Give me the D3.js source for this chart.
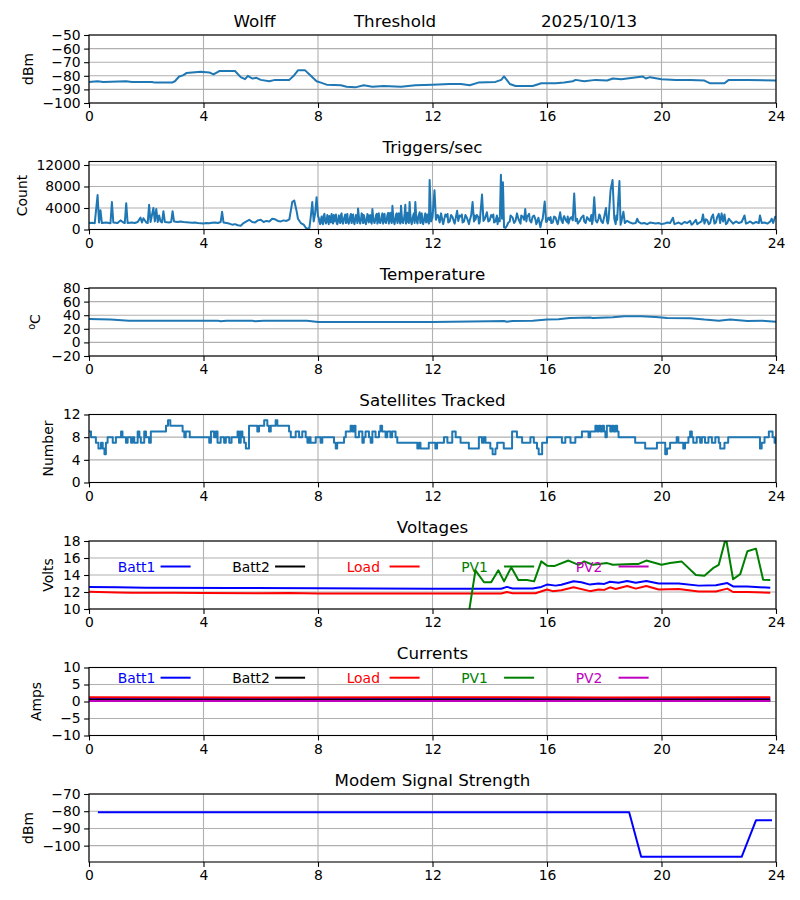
<!DOCTYPE html>
<html><head><meta charset="utf-8">
<script src="https://cdn.jsdelivr.net/npm/d3@7"></script>
<style>body{margin:0;background:#fff}svg{display:block}text{font-family:"DejaVu Sans",sans-serif}</style>
</head><body>
<svg id="c" width="800" height="900"></svg>
<script>
// ---------- data (hour, value) ----------
const hourTicks = [0,4,8,12,16,20,24];
const threshold = [[0,-84.5],[0.3,-84],[0.5,-84.5],[1.3,-84],[1.5,-84.5],[2.2,-84.5],[2.3,-85],[2.9,-85],[3.0,-84],[3.15,-80.5],[3.3,-79.5],[3.4,-78],[3.6,-77.5],[3.9,-77],[4.2,-77.5],[4.35,-79],[4.55,-76.5],[5.1,-76.5],[5.3,-81],[5.45,-82.5],[5.55,-80],[5.7,-82],[5.85,-81.5],[6.0,-83],[6.3,-84],[6.5,-83],[7.0,-83],[7.15,-80],[7.3,-76],[7.55,-76],[7.75,-80],[7.95,-84],[8.1,-85],[8.3,-86.5],[8.8,-87],[9.0,-88],[9.3,-88.5],[9.6,-87],[9.9,-88],[10.3,-87.5],[10.9,-88],[11.4,-87],[12.0,-86.5],[12.6,-86],[13.0,-86],[13.3,-87],[13.6,-85],[14.2,-84.5],[14.4,-83],[14.5,-80.5],[14.7,-86],[14.9,-87.5],[15.5,-87.5],[15.8,-85.5],[16.3,-85.5],[16.6,-85],[16.9,-84],[17.0,-83],[17.3,-84],[17.7,-83],[18.1,-83.5],[18.3,-82],[18.6,-82.5],[19.0,-81.5],[19.35,-80.5],[19.45,-82],[19.6,-81],[20.0,-82.5],[20.5,-83],[21.0,-83],[21.5,-83.5],[21.7,-85.5],[22.2,-85.5],[22.35,-83],[23.0,-83],[24.0,-83.5]];
const triggers = [[0,1200],[0.1,1250],[0.2,1150],[0.3,6400],[0.35,1300],[0.4,3600],[0.45,1200],[0.6,1300],[0.7,1200],[0.75,1150],[0.8,5100],[0.85,1300],[1.0,1200],[1.1,1700],[1.2,1300],[1.25,1200],[1.3,4900],[1.35,1200],[1.5,1300],[1.6,1200],[1.7,1400],[1.8,2200],[1.85,1300],[1.9,2100],[2.0,1300],[2.05,1200],[2.1,4600],[2.15,1400],[2.25,4000],[2.3,1500],[2.35,3800],[2.4,1400],[2.45,2600],[2.5,1500],[2.55,1300],[2.6,3400],[2.65,1400],[2.8,1300],[2.87,1400],[2.92,3400],[2.97,1500],[3.1,1400],[3.2,1500],[3.3,1400],[3.4,1350],[3.5,1300],[3.6,1250],[3.7,1300],[3.8,1200],[3.9,1150],[4.0,1100],[4.1,1200],[4.2,1150],[4.3,1250],[4.4,1300],[4.5,1200],[4.6,1400],[4.65,3300],[4.7,1300],[4.8,1200],[4.9,1100],[5.0,900],[5.1,1000],[5.2,800],[5.3,700],[5.4,1200],[5.5,1500],[5.6,1800],[5.7,1400],[5.8,1300],[5.9,1700],[6.0,1800],[6.1,1400],[6.2,1600],[6.3,1500],[6.4,2000],[6.5,1900],[6.6,1600],[6.7,1500],[6.8,1700],[6.9,1600],[7.0,1900],[7.1,5100],[7.17,5400],[7.25,3500],[7.3,2000],[7.4,1200],[7.5,900],[7.55,500],[7.6,100],[7.7,300],[7.75,2500],[7.8,5100],[7.85,1500],[7.9,3000],[7.95,6000],[8.0,2500],[8.05,1400],[8.1,1800],[8.15,1200],[8.2,2600],[8.25,1600],[8.3,1400],[8.35,2300],[8.4,2500],[8.45,1300],[8.5,1800],[8.55,2700],[8.6,2300],[8.65,1200],[8.7,1500],[8.75,2400],[8.8,2700],[8.85,1400],[8.9,1900],[8.95,2800],[9.0,2400],[9.05,1300],[9.1,1600],[9.15,2900],[9.2,2600],[9.25,1400],[9.3,1800],[9.35,2400],[9.4,3900],[9.45,1500],[9.5,1700],[9.55,2800],[9.6,2700],[9.65,1300],[9.7,1600],[9.75,2600],[9.8,2500],[9.85,1400],[9.9,3800],[9.95,1500],[10.0,1700],[10.05,2900],[10.1,2800],[10.15,1300],[10.2,1600],[10.25,3000],[10.3,2600],[10.35,1400],[10.4,1800],[10.45,3100],[10.5,2900],[10.55,1500],[10.6,4400],[10.65,1400],[10.7,1700],[10.75,3000],[10.8,2700],[10.85,1500],[10.9,4400],[10.95,1300],[11.0,1800],[11.05,4600],[11.1,2000],[11.15,1400],[11.2,5100],[11.25,1500],[11.3,1800],[11.35,3000],[11.4,5100],[11.45,1600],[11.5,2200],[11.55,3200],[11.6,2700],[11.65,1300],[11.7,1600],[11.75,3000],[11.8,2500],[11.85,1400],[11.9,9200],[11.95,1500],[12.0,2200],[12.07,7300],[12.12,1800],[12.2,2600],[12.25,1300],[12.3,3000],[12.35,1500],[12.4,1700],[12.45,2800],[12.5,2400],[12.55,1300],[12.6,1500],[12.65,2700],[12.7,2300],[12.75,1400],[12.8,1800],[12.86,3500],[12.9,1600],[12.95,2600],[13.0,2400],[13.05,1300],[13.1,1500],[13.15,2700],[13.2,2200],[13.25,1400],[13.3,1700],[13.35,2600],[13.4,5100],[13.45,1500],[13.5,1800],[13.55,2700],[13.6,2300],[13.65,1400],[13.73,6500],[13.78,1600],[13.83,2000],[13.9,3200],[13.95,1500],[14.0,1700],[14.05,2700],[14.1,2300],[14.15,1300],[14.2,1500],[14.25,2600],[14.3,2100],[14.35,1500],[14.39,10200],[14.43,2000],[14.46,8800],[14.5,400],[14.55,300],[14.6,700],[14.65,1300],[14.7,1500],[14.75,2500],[14.8,2200],[14.85,1200],[14.9,1600],[14.95,3000],[15.0,2000],[15.05,1400],[15.1,2600],[15.15,2400],[15.2,1800],[15.24,3800],[15.28,1500],[15.3,2300],[15.35,2700],[15.4,1700],[15.45,1300],[15.5,2400],[15.55,2600],[15.6,1800],[15.65,1300],[15.7,2200],[15.77,400],[15.81,1500],[15.85,2000],[15.92,5200],[15.97,1400],[16.0,1500],[16.05,2200],[16.1,1800],[16.15,1200],[16.2,1300],[16.25,2400],[16.3,2200],[16.35,1300],[16.4,1600],[16.46,3200],[16.5,1700],[16.55,1200],[16.6,2500],[16.65,1800],[16.7,1400],[16.75,1100],[16.8,2000],[16.85,2300],[16.9,1700],[16.95,6700],[17.0,1600],[17.05,2000],[17.1,1300],[17.15,1600],[17.2,2200],[17.25,2500],[17.3,1500],[17.35,1200],[17.4,2300],[17.45,1900],[17.5,1600],[17.55,2700],[17.6,1700],[17.65,6000],[17.7,1700],[17.75,1300],[17.8,2000],[17.85,2600],[17.9,1500],[17.95,1200],[18.0,2400],[18.06,4000],[18.1,1500],[18.15,1800],[18.22,7300],[18.29,9200],[18.35,2000],[18.4,1000],[18.45,1800],[18.53,9000],[18.57,900],[18.6,1500],[18.67,3300],[18.72,1200],[18.75,1400],[18.8,1600],[18.9,1300],[19.0,1100],[19.1,1200],[19.15,2000],[19.2,1400],[19.3,1100],[19.4,1200],[19.5,1000],[19.6,1300],[19.7,1200],[19.8,1100],[19.9,1200],[20.0,1000],[20.1,1100],[20.2,1300],[20.3,1200],[20.4,2200],[20.45,1000],[20.5,1100],[20.6,1300],[20.7,1000],[20.8,1400],[20.9,1200],[21.0,1600],[21.05,900],[21.1,1100],[21.2,1800],[21.25,1000],[21.3,1200],[21.4,1500],[21.45,2800],[21.5,1100],[21.55,1900],[21.6,1700],[21.65,1000],[21.7,1200],[21.75,2300],[21.8,2800],[21.85,1100],[21.9,1300],[21.95,2400],[22.0,2900],[22.05,1200],[22.1,3000],[22.15,1500],[22.2,2800],[22.25,1000],[22.3,1200],[22.35,2000],[22.4,1700],[22.5,1100],[22.6,1500],[22.7,1200],[22.8,1400],[22.9,2600],[22.95,1100],[23.0,1200],[23.1,1500],[23.2,1100],[23.3,1400],[23.4,1200],[23.44,2600],[23.5,1200],[23.6,1300],[23.7,1100],[23.8,1500],[23.85,2000],[23.9,1200],[23.98,2500]];
const triggersExtra = [[8.025,2200],[8.075,1000],[8.125,2400],[8.175,1000],[8.225,2900],[8.275,1100],[8.325,2700],[8.375,1000],[8.425,2000],[8.475,2900],[8.525,1100],[8.575,1500],[8.625,2800],[8.675,1000],[8.725,2600],[8.775,1200],[8.825,3000],[8.875,1100],[8.925,2300],[8.975,1200],[9.025,2900],[9.075,1100],[9.125,2500],[9.175,1200],[9.225,2800],[9.275,1000],[9.325,2700],[9.375,1200],[9.425,2600],[9.475,1100],[9.525,3000],[9.575,1200],[9.625,2200],[9.675,1000],[9.725,2900],[9.775,1300],[9.825,2700],[9.875,1100],[9.925,2400],[9.975,1200],[10.025,2600],[10.075,1100],[10.125,3000],[10.175,1200],[10.225,2500],[10.275,1100],[10.325,2900],[10.375,1200],[10.425,2700],[10.475,1100],[10.525,3100],[10.575,1200],[10.625,2600],[10.675,1000],[10.725,2800],[10.775,1200],[10.825,3000],[10.875,1100],[10.925,2700],[10.975,1200],[11.025,2900],[11.075,1100],[11.125,3100],[11.175,1200],[11.225,2800],[11.275,1000],[11.325,2600],[11.375,1200],[11.425,2900],[11.475,1100],[11.525,2700],[11.575,1200],[11.625,3000],[11.675,1000],[11.725,2500],[11.775,1300],[11.825,2800],[11.875,1100],[12.175,2700],[12.375,1000],[12.525,2900],[12.775,1100],[13.025,2800],[13.275,1000],[13.475,2600],[13.625,1100],[14.125,2800],[14.275,1000],[14.725,2600],[15.075,1100],[15.375,2900],[15.625,1000],[16.125,2300],[16.375,1000],[16.575,2200],[16.725,2400],[17.075,1100],[17.275,2600],[17.575,1000],[17.825,2800],[18.125,1100],[18.425,2600]];
const temperature = [[0,34.5],[0.75,33.5],[1.4,32],[4.5,32],[4.6,31],[4.8,32],[5.7,32],[5.8,31],[6.1,32],[7.6,32],[7.7,31.5],[8.0,30],[12,30],[14.0,31],[14.5,31.5],[14.6,30.5],[14.8,31.5],[15.5,32],[16.0,33.5],[16.4,34],[16.8,36],[17.5,36.5],[17.6,36],[18.3,37],[18.7,38.5],[19.3,38.5],[19.8,37.5],[20.2,36],[21.0,35.5],[21.5,33.5],[22.0,32],[22.4,33.5],[22.7,32.5],[23.0,31.5],[23.5,32],[24.0,30.5]];
const satellites = [[0,9],[0.07,8],[0.24,7],[0.33,6],[0.42,7],[0.48,6],[0.54,5],[0.59,7],[0.65,8],[0.83,7],[0.94,8],[1.12,9],[1.17,8],[1.29,7],[1.35,8],[1.47,7],[1.52,8],[1.58,7],[1.7,9],[1.76,8],[1.81,7],[1.93,9],[1.99,8],[2.1,7],[2.16,9],[2.69,10],[2.76,11],[2.84,10],[3.27,9],[3.33,8],[3.38,9],[3.52,8],[4.2,7],[4.26,9],[4.37,8],[4.43,9],[4.49,7],[4.6,8],[4.72,7],[4.78,8],[4.9,7],[4.98,8],[5.19,9],[5.24,7],[5.3,9],[5.36,8],[5.42,7],[5.48,6],[5.59,10],[5.88,9],[5.94,10],[6.12,11],[6.23,10],[6.29,9],[6.35,10],[6.52,11],[6.58,10],[6.99,9],[7.05,8],[7.22,9],[7.34,8],[7.45,9],[7.57,8],[7.63,7],[7.69,8],[7.74,7],[7.92,8],[8.09,7],[8.15,8],[8.56,7],[8.62,6],[8.67,7],[8.91,8],[8.97,9],[9.14,10],[9.2,9],[9.26,10],[9.31,8],[9.43,9],[9.55,7],[9.6,8],[9.66,9],[9.78,8],[9.84,7],[9.9,9],[10.01,8],[10.13,9],[10.18,10],[10.24,9],[10.36,8],[10.42,9],[10.53,8],[10.59,9],[10.71,8],[10.77,7],[11.47,6],[11.52,7],[11.58,6],[11.87,7],[12.1,6],[12.16,7],[12.4,8],[12.52,7],[12.69,9],[12.81,8],[12.98,7],[13.27,6],[13.62,8],[13.73,7],[13.79,8],[13.85,7],[14.02,6],[14.1,5],[14.2,6],[14.26,7],[14.49,6],[14.78,9],[14.95,8],[15.13,7],[15.42,8],[15.54,7],[15.65,6],[15.71,5],[15.83,7],[16.0,8],[16.52,7],[16.64,8],[16.82,7],[16.99,8],[17.22,9],[17.45,8],[17.51,9],[17.69,10],[17.75,9],[17.81,10],[17.87,9],[17.93,10],[17.99,9],[18.04,8],[18.09,10],[18.21,9],[18.27,10],[18.33,9],[18.39,10],[18.45,9],[18.5,8],[19.08,7],[19.43,6],[19.84,7],[20.13,5],[20.19,6],[20.3,7],[20.53,8],[20.59,7],[20.76,6],[20.82,7],[20.94,8],[21.0,9],[21.06,8],[21.11,7],[21.23,8],[21.35,7],[21.41,8],[21.52,7],[21.64,8],[21.76,7],[21.88,8],[22.0,7],[22.05,6],[22.2,7],[22.33,8],[23.44,6],[23.5,7],[23.6,8],[23.75,9],[23.88,8],[23.95,7],[24.0,8]];
const voltBatt1 = [[0,12.6],[1,12.55],[2,12.5],[5,12.48],[8,12.45],[12,12.38],[14.4,12.38],[14.6,12.6],[14.8,12.42],[15.5,12.42],[15.8,12.6],[16.0,12.87],[16.3,12.75],[16.5,12.85],[16.93,13.26],[17.2,13.15],[17.5,12.87],[17.8,13.0],[18.0,12.95],[18.2,13.2],[18.5,13.1],[18.8,13.3],[19.1,13.1],[19.47,13.3],[19.9,13.0],[20.6,13.0],[21.3,12.75],[21.9,12.8],[22.3,13.05],[22.5,12.65],[23.0,12.65],[23.8,12.5]];
const voltLoad = [[0,12.03],[1,11.95],[1.5,11.9],[3,11.92],[4,11.88],[6,11.85],[7,11.88],[8,11.83],[10,11.82],[12,11.83],[14.4,11.83],[14.6,12.0],[14.8,11.85],[15.6,11.85],[16.0,12.3],[16.2,12.1],[16.5,12.2],[16.93,12.55],[17.5,12.1],[17.8,12.3],[18.0,12.25],[18.2,12.55],[18.4,12.35],[18.8,12.7],[19.1,12.4],[19.47,12.7],[19.9,12.3],[20.6,12.35],[21.3,12.05],[21.9,12.05],[22.3,12.4],[22.5,12.0],[23.0,12.0],[23.8,11.9]];
const voltPV1 = [[13.17,7.4],[13.5,14.55],[13.8,13.15],[14.05,13.15],[14.3,14.55],[14.5,13.25],[14.75,14.9],[15.0,13.4],[15.3,13.4],[15.55,13.25],[15.8,15.6],[16.0,15.1],[16.25,15.05],[16.75,15.7],[17.1,15.2],[17.3,15.6],[17.6,15.2],[18.1,15.4],[18.3,15.2],[19.0,15.3],[19.2,15.3],[19.47,15.7],[20.0,15.2],[20.3,15.4],[20.7,15.6],[21.2,14.0],[21.5,13.9],[21.8,14.8],[22.0,15.2],[22.25,18.4],[22.5,13.5],[22.75,14.1],[23.0,16.8],[23.3,17.1],[23.55,13.45],[23.8,13.4]];
const currBatt1 = [[0,0.9],[6,0.9],[12,0.9],[18,0.9],[23.8,0.9]];
const currBatt2 = [[0,0.55],[6,0.55],[12,0.55],[18,0.55],[23.8,0.55]];
const currLoad = [[0,1.25],[6,1.2],[12,1.25],[18,1.2],[23.8,1.25]];
const currPV1 = [[0,0.15],[6,0.15],[12,0.15],[18,0.15],[23.8,0.15]];
const currPV2 = [[0,0.15],[6,0.15],[12,0.15],[18,0.15],[23.8,0.15]];
const modem = [[0.31,-80.6],[18.87,-80.6],[19.29,-106.5],[22.8,-106.5],[23.3,-85.3],[23.86,-85.3]];
const legendNames = ["Batt1","Batt2","Load","PV1","PV2"];
const legendColors = ["#0000ff","#000000","#ff0000","#008000","#bf00bf"];
const legendHours = [1,5,9,13,17];

// ---------- layout ----------
const svg = d3.select("#c");
const L = 89, R = 776, H = 68, TOP0 = 35, STEP = 126.5;
const x = d3.scaleLinear().domain([0,24]).range([L,R]);
const BLUE = "#1f77b4";
let clipId = 0;
const triggersAll = triggers.concat(triggersExtra).sort((a,b)=>a[0]-b[0]);

function panel(i, opt){
  const top = TOP0 + i*STEP, bot = top + H;
  const y = d3.scaleLinear().domain(opt.domain).range([bot, top]);
  const g = svg.append("g");
  g.append("g").selectAll("line").data(hourTicks).join("line")
    .attr("x1", d=>x(d)).attr("x2", d=>x(d)).attr("y1", top).attr("y2", bot)
    .attr("stroke","#b0b0b0").attr("stroke-width",1.1);
  g.append("g").selectAll("line").data(opt.yticks).join("line")
    .attr("x1", L).attr("x2", R).attr("y1", d=>y(d)).attr("y2", d=>y(d))
    .attr("stroke","#b0b0b0").attr("stroke-width",1.1);
  const cid = "clip"+(clipId++);
  svg.append("clipPath").attr("id",cid).append("rect")
    .attr("x",L).attr("y",top).attr("width",R-L).attr("height",H);
  const lg = g.append("g").attr("clip-path",`url(#${cid})`);
  opt.series.forEach(s=>{
    const line = d3.line().x(d=>x(d[0])).y(d=>y(d[1]));
    if(s.step) line.curve(d3.curveStepAfter);
    lg.append("path").datum(s.data).attr("d", line)
      .attr("fill","none").attr("stroke", s.color).attr("stroke-width", s.w||2)
      .attr("stroke-linejoin","round").attr("stroke-linecap","butt");
  });
  if(opt.legend){
    legendNames.forEach((n,k)=>{
      const h = legendHours[k];
      g.append("text").attr("x", x(h)).attr("y", y(opt.legend)+5)
        .attr("font-size",13.9).attr("fill",legendColors[k]).text(n);
      g.append("line").attr("x1", x(h+1.5)).attr("x2", x(h+2.55))
        .attr("y1", y(opt.legend)).attr("y2", y(opt.legend))
        .attr("stroke",legendColors[k]).attr("stroke-width",2);
    });
  }
  const ax = g.append("g").attr("transform",`translate(0,${bot})`)
    .call(d3.axisBottom(x).tickValues(hourTicks).tickSize(4.9).tickPadding(3.5).tickFormat(d3.format("d")));
  const ay = g.append("g").attr("transform",`translate(${L},0)`)
    .call(d3.axisLeft(y).tickValues(opt.yticks).tickSize(4.9).tickPadding(3.5).tickFormat(d3.format("d")));
  [ax,ay].forEach(a=>{
    a.select(".domain").remove();
    a.selectAll("line").attr("stroke","#000").attr("stroke-width",1.1);
    a.selectAll("text").attr("font-size",13.9).attr("fill","#000").attr("font-family","DejaVu Sans");
  });
  g.append("rect").attr("x",L).attr("y",top).attr("width",R-L).attr("height",H)
    .attr("fill","none").attr("stroke","#000").attr("stroke-width",1.1);
  const yl = g.append("text").attr("transform",`translate(${opt.ylx},${(top+bot)/2}) rotate(-90)`)
    .attr("text-anchor","middle").attr("font-size",13.9).attr("fill","#000");
  if(opt.ylabel==="°C"){
    yl.append("tspan").attr("font-size",9.7).attr("dy",-5).text("o");
    yl.append("tspan").attr("dy",5).text("C");
  } else yl.text(opt.ylabel);
  if(opt.title){
    g.append("text").attr("x",(L+R)/2).attr("y",top-8.3).attr("text-anchor","middle")
      .attr("font-size",16.7).attr("fill","#000").text(opt.title);
  }
  return {top,bot,y};
}

const p0 = panel(0,{domain:[-100,-50],yticks:[-100,-90,-80,-70,-60,-50],ylabel:"dBm",ylx:33,
  series:[{data:threshold,color:BLUE}]});
[["Wolff",254.5],["Threshold",395],["2025/10/13",589]].forEach(t=>{
  svg.append("text").attr("x",t[1]).attr("y",p0.top-8.3).attr("text-anchor","middle")
    .attr("font-size",16.7).attr("fill","#000").text(t[0]);
});
panel(1,{domain:[0,12650],yticks:[0,4000,8000,12000],ylabel:"Count",ylx:27,title:"Triggers/sec",
  series:[{data:triggersAll,color:BLUE}]});
panel(2,{domain:[-20,80],yticks:[-20,0,20,40,60,80],ylabel:"°C",ylx:40,title:"Temperature",
  series:[{data:temperature,color:BLUE}]});
panel(3,{domain:[0,12],yticks:[0,4,8,12],ylabel:"Number",ylx:53,title:"Satellites Tracked",
  series:[{data:satellites,color:BLUE,step:true}]});
panel(4,{domain:[10,18],yticks:[10,12,14,16,18],ylabel:"Volts",ylx:53,title:"Voltages",legend:15,
  series:[{data:voltBatt1,color:"#0000ff"},{data:voltLoad,color:"#ff0000"},{data:voltPV1,color:"#008000"}]});
panel(5,{domain:[-10,10],yticks:[-10,-5,0,5,10],ylabel:"Amps",ylx:41,title:"Currents",legend:7,
  series:[{data:currBatt1,color:"#0000ff"},{data:currBatt2,color:"#000000"},{data:currLoad,color:"#ff0000"},{data:currPV1,color:"#008000"},{data:currPV2,color:"#bf00bf"}]});
panel(6,{domain:[-109.5,-70],yticks:[-100,-90,-80,-70],ylabel:"dBm",ylx:33,title:"Modem Signal Strength",
  series:[{data:modem,color:"#0000ff"}]});
</script>
</body></html>
